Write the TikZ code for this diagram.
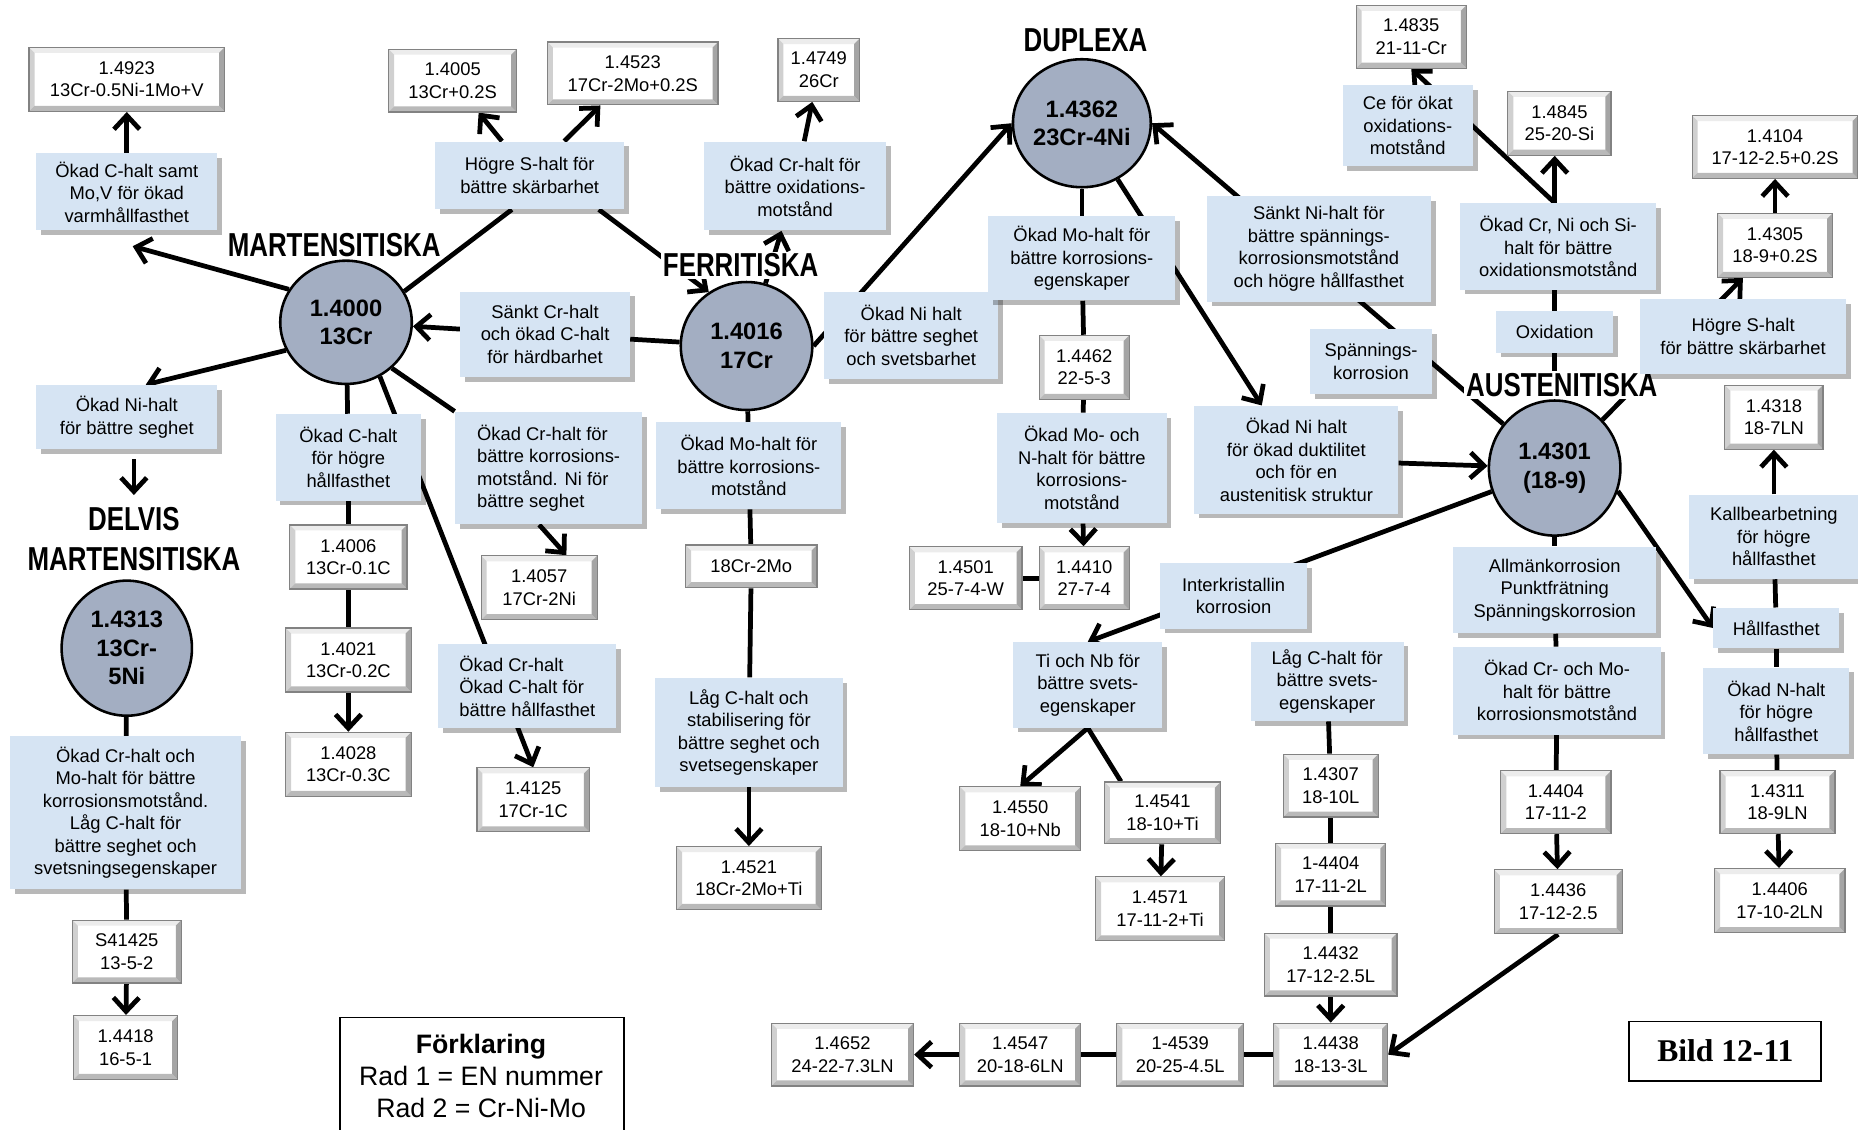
\documentclass[tikz,border=0pt]{standalone}
\usepackage{fontspec}
\setmainfont{Liberation Sans}
\newfontfamily\headfont{Liberation Sans Bold}[FakeStretch=0.78]
\newfontfamily\bildfont{Liberation Serif}
\usetikzlibrary{shapes.geometric,arrows.meta,shadows,backgrounds}
\definecolor{notefill}{RGB}{214,228,243}
\definecolor{circfill}{RGB}{163,174,194}
\definecolor{bevT}{RGB}{236,236,236}
\definecolor{bevL}{RGB}{208,208,208}
\definecolor{bevR}{RGB}{165,165,165}
\definecolor{bevB}{RGB}{185,185,185}
\definecolor{matedge}{RGB}{130,130,130}
\newcommand{\bevw}{2.8pt}
\newcommand{\bevelpp}{%
 \fill[bevT] (path picture bounding box.north west) -- (path picture bounding box.north east) -- ([shift={(-\bevw,-\bevw)}]path picture bounding box.north east) -- ([shift={(\bevw,-\bevw)}]path picture bounding box.north west) -- cycle;
 \fill[bevL] (path picture bounding box.north west) -- ([shift={(\bevw,-\bevw)}]path picture bounding box.north west) -- ([shift={(\bevw,\bevw)}]path picture bounding box.south west) -- (path picture bounding box.south west) -- cycle;
 \fill[bevB] (path picture bounding box.south west) -- ([shift={(\bevw,\bevw)}]path picture bounding box.south west) -- ([shift={(-\bevw,\bevw)}]path picture bounding box.south east) -- (path picture bounding box.south east) -- cycle;
 \fill[bevR] (path picture bounding box.south east) -- ([shift={(-\bevw,\bevw)}]path picture bounding box.south east) -- ([shift={(-\bevw,-\bevw)}]path picture bounding box.north east) -- (path picture bounding box.north east) -- cycle;
}
\tikzset{
  txt/.style={font=\fontsize{9.3}{11.4}\selectfont, align=center, inner sep=2pt},
  note/.style 2 args={txt, rectangle, fill=notefill, minimum width=#1*0.6pt, minimum height=#2*0.6pt,
     drop shadow={shadow xshift=2.4pt, shadow yshift=-2.4pt, fill=black, opacity=0.28}},
  mat/.style 2 args={txt, rectangle, draw=matedge, line width=0.6pt, fill=white, minimum width=#1*0.6pt, minimum height=#2*0.6pt,
     path picture={\bevelpp}},
  circ/.style 2 args={ellipse, draw=black, line width=1.3pt, fill=circfill, minimum width=#1*0.6pt, minimum height=#2*0.6pt,
     inner sep=0pt, align=center, font=\bfseries\fontsize{12}{14.4}\selectfont},
  head/.style={font=\headfont\fontsize{16.8}{20.4}\selectfont, fill=white, inner sep=1pt, align=center},
  conn/.style={line width=2.4pt, black},
  arr/.style={conn, -{Straight Barb[length=7pt,width=13pt]}},
}
\begin{document}
\begin{tikzpicture}[x=0.6pt,y=-0.6pt]
\useasboundingbox (0,0) rectangle (1568,953);

% ---- circles
\node[circ={111}{104}] (c4000) at (292,272) {1.4000\\13Cr};
\node[circ={111}{108}] (c4016) at (630,292) {1.4016\\17Cr};
\node[circ={111}{108}] (c4362) at (913,104) {1.4362\\23Cr-4Ni};
\node[circ={111}{114}] (c4301) at (1312,395) {1.4301\\(18-9)};
\node[circ={110}{114}] (c4313) at (107,547) {1.4313\\13Cr-\\5Ni};

% ---- headings
\node[head] (hmart) at (282,207) {MARTENSITISKA};
\node[head] (hferr) at (625,224) {FERRITISKA};
\node[head] (hdup) at (916,34) {DUPLEXA};
\node[head] (haus) at (1318,325) {AUSTENITISKA};
\node[head] (hdelvis) at (113,455) {DELVIS\\MARTENSITISKA};

% ---- notes
\node[note={153}{65}] (na) at (107,162) {Ökad C-halt samt\\Mo,V för ökad\\varmhållfasthet};
\node[note={160}{57}] (nb) at (447,148) {Högre S-halt för\\bättre skärbarhet};
\node[note={154}{75}] (nc) at (671,157) {Ökad Cr-halt för\\bättre oxidations-\\motstånd};
\node[note={143}{72}] (nd) at (460,282) {Sänkt Cr-halt\\och ökad C-halt\\för härdbarhet};
\node[note={147}{74}] (ne) at (769,283) {Ökad Ni halt\\för bättre seghet\\och svetsbarhet};
\node[note={158}{71}] (nf) at (913,218) {Ökad Mo-halt för\\bättre korrosions-\\egenskaper};
\node[note={189}{89}] (ng) at (1113,210) {Sänkt Ni-halt för\\bättre spännings-\\korrosionsmotstånd\\och högre hållfasthet};
\node[note={110}{68}] (nh) at (1188,106) {Ce för ökat\\oxidations-\\motstånd};
\node[note={165}{73}] (ni) at (1315,208) {Ökad Cr, Ni och Si-\\halt för bättre\\oxidationsmotstånd};
\node[note={99}{35}] (nj) at (1312,280) {Oxidation};
\node[note={103}{55}] (nk) at (1157,305) {Spännings-\\korrosion};
\node[note={174}{63}] (nl) at (1471,284) {Högre S-halt\\för bättre skärbarhet};
\node[note={153}{54}] (nm) at (107,352) {Ökad Ni-halt\\för bättre seghet};
\node[note={123}{73}] (nn) at (294,386) {Ökad C-halt\\för högre\\hållfasthet};
\node[note={158}{95}, align=left] (no) at (463,395) {Ökad Cr-halt för\\bättre korrosions-\\motstånd. Ni för\\bättre seghet};
\node[note={156}{73}] (np) at (632,393) {Ökad Mo-halt för\\bättre korrosions-\\motstånd};
\node[note={143}{93}] (nq) at (913,395) {Ökad Mo- och\\N-halt för bättre\\korrosions-\\motstånd};
\node[note={172}{91}] (nr) at (1094,388) {Ökad Ni halt\\för ökad duktilitet\\och för en\\austenitisk struktur};
\node[note={124}{55}] (ns) at (1041,503) {Interkristallin\\korrosion};
\node[note={126}{72}] (nt) at (918,578) {Ti och Nb för\\bättre svets-\\egenskaper};
\node[note={129}{67}] (nu) at (1120,575) {Låg C-halt för\\bättre svets-\\egenskaper};
\node[note={171}{73}] (nv) at (1312,498) {Allmänkorrosion\\Punktfrätning\\Spänningskorrosion};
\node[note={175}{74}] (nw) at (1314,583) {Ökad Cr- och Mo-\\halt för bättre\\korrosionsmotstånd};
\node[note={143}{71}] (nx) at (1497,453) {Kallbearbetning\\för högre\\hållfasthet};
\node[note={106}{34}] (ny) at (1499,530) {Hållfasthet};
\node[note={123}{73}] (nz) at (1499,600) {Ökad N-halt\\för högre\\hållfasthet};
\node[note={150}{71}, align=left] (naa) at (445,579) {Ökad Cr-halt\\Ökad C-halt för\\bättre hållfasthet};
\node[note={158}{92}] (nbb) at (632,618) {Låg C-halt och\\stabilisering för\\bättre seghet och\\svetsegenskaper};
\node[note={195}{129}] (ncc) at (106,686) {Ökad Cr-halt och\\Mo-halt för bättre\\korrosionsmotstånd.\\Låg C-halt för\\bättre seghet och\\svetsningsegenskaper};

% ---- material boxes
\node[mat={165}{54}] (m4923) at (107,67) {1.4923\\13Cr-0.5Ni-1Mo+V};
\node[mat={108}{53}] (m4005) at (382,68) {1.4005\\13Cr+0.2S};
\node[mat={144}{53}] (m4523) at (534,62) {1.4523\\17Cr-2Mo+0.2S};
\node[mat={69}{53}] (m4749) at (691,59) {1.4749\\26Cr};
\node[mat={93}{53}] (m4835) at (1191,31) {1.4835\\21-11-Cr};
\node[mat={87}{54}] (m4845) at (1316,104) {1.4845\\25-20-Si};
\node[mat={140}{53}] (m4104) at (1498,124) {1.4104\\17-12-2.5+0.2S};
\node[mat={97}{54}] (m4305) at (1498,207) {1.4305\\18-9+0.2S};
\node[mat={76}{54}] (m4462) at (915,310) {1.4462\\22-5-3};
\node[mat={83}{54}] (m4318) at (1497,352) {1.4318\\18-7LN};
\node[mat={99}{54}] (m4006) at (294,470) {1.4006\\13Cr-0.1C};
\node[mat={98}{54}] (m4057) at (455,496) {1.4057\\17Cr-2Ni};
\node[mat={111}{36}] (m18) at (634,478) {18Cr-2Mo};
\node[mat={95}{53}] (m4501) at (815,488) {1.4501\\25-7-4-W};
\node[mat={76}{53}] (m4410) at (915,488) {1.4410\\27-7-4};
\node[mat={106}{54}] (m4021) at (294,557) {1.4021\\13Cr-0.2C};
\node[mat={106}{54}] (m4028) at (294,645) {1.4028\\13Cr-0.3C};
\node[mat={95}{54}] (m4125) at (450,675) {1.4125\\17Cr-1C};
\node[mat={122}{53}] (m4521) at (632,741) {1.4521\\18Cr-2Mo+Ti};
\node[mat={102}{54}] (m4550) at (861,691) {1.4550\\18-10+Nb};
\node[mat={98}{52}] (m4541) at (981,686) {1.4541\\18-10+Ti};
\node[mat={109}{54}] (m4571) at (979,767) {1.4571\\17-11-2+Ti};
\node[mat={80}{53}] (m4307) at (1123,663) {1.4307\\18-10L};
\node[mat={93}{53}] (m4404L) at (1123,738) {1-4404\\17-11-2L};
\node[mat={112}{53}] (m4432) at (1123,814) {1.4432\\17-12-2.5L};
\node[mat={96}{53}] (m4438) at (1123,890) {1.4438\\18-13-3L};
\node[mat={107}{53}] (m4539) at (996,890) {1-4539\\20-25-4.5L};
\node[mat={102}{53}] (m4547) at (861,890) {1.4547\\20-18-6LN};
\node[mat={120}{53}] (m4652) at (711,890) {1.4652\\24-22-7.3LN};
\node[mat={93}{53}] (m4404) at (1313,677) {1.4404\\17-11-2};
\node[mat={108}{54}] (m4436) at (1315,761) {1.4436\\17-12-2.5};
\node[mat={97}{53}] (m4311) at (1500,677) {1.4311\\18-9LN};
\node[mat={110}{54}] (m4406) at (1502,760) {1.4406\\17-10-2LN};
\node[mat={92}{53}] (mS41425) at (107,803) {S41425\\13-5-2};
\node[mat={88}{54}] (m4418) at (106,884) {1.4418\\16-5-1};

% ---- legend and caption
\node[draw=black, line width=0.9pt, anchor=north west, minimum width=240*0.6pt, minimum height=125*0.6pt, inner sep=0pt] (leg) at (286,858) {};
\node[align=center, inner sep=0pt, font=\fontsize{13.5}{16}\selectfont] (legt) at (406,908) {\textbf{Förklaring}\\Rad 1 = EN nummer\\Rad 2 = Cr-Ni-Mo};
\node[draw=black, line width=0.9pt, minimum width=162*0.6pt, minimum height=50*0.6pt, font=\bildfont\bfseries\fontsize{16}{19}\selectfont] (bild) at (1456,887) {Bild 12-11};

\coordinate (jn) at (ni.north -| nj);

% ---- connectors
\begin{scope}[on background layer]
% martensitic
\draw[arr] (c4000.150) -- ([shift={(5,13)}]na.south);
\draw[arr] (na) -- (m4923);
\draw[conn] (c4000.28) -- ([shift={(-15,0)}]nb.south);
\draw[arr] (nb) -- (m4005);
\draw[arr] (nb) -- (m4523);
\draw[arr] ([shift={(-22,0)}]nb.south east) -- (c4016.125);
\draw[arr] (c4000.205) -- ([shift={(16,0)}]nm.north);
\draw[arr, shorten <=5pt, shorten >=5pt] (nm.south -| hdelvis) -- (hdelvis);
\draw[conn] (c4000) -- (nn);
\draw[conn] (nn) -- (m4006);
\draw[conn] (m4006) -- (m4021);
\draw[arr] (m4021) -- (m4028);
\draw[conn] (c4000.-45) -- (no.north west);
\draw[arr] ([shift={(-8,0)}]no.south) -- ([shift={(23,0)}]m4057.north);
\draw[arr] (c4000.-58) -- (m4125.north);
\draw[conn] (c4313) -- (ncc);
\draw[conn] (ncc) -- (mS41425);
\draw[arr] (mS41425) -- (m4418);
% ferritic
\draw[arr] (c4016) -- (nc);
\draw[arr] (nc) -- (m4749);
\draw[conn] (c4016) -- (nd);
\draw[arr] (nd) -- (c4000);
\draw[conn] (c4016) -- (np);
\draw[conn] (np) -- (m18);
\draw[conn] (m18) -- (nbb);
\draw[arr] (nbb) -- (m4521);
\draw[arr] (c4016.east) -- (c4362.west);
% duplex
\draw[conn] (c4362) -- (nf);
\draw[conn] (nf) -- (m4462);
\draw[conn] (m4462) -- (nq);
\draw[arr] (nq) -- (m4410);
\draw[conn] (m4410) -- (m4501);
\draw[arr] (c4362) -- (nr);
\draw[arr] (nr) -- (c4301);
% austenitic
\draw[arr] (c4301) -- (c4362.east);
\draw[conn] (c4301) -- (nj);
\draw[conn] (nj) -- (jn);
\draw[arr] (jn) -- (jn |- m4845.south);
\draw[arr] (jn) -- (m4835.south);
\draw[arr] (c4301) -- (m4305);
\draw[arr] (m4305) -- (m4104);
\draw[arr] (c4301.-20) -- (ny.west);
\draw[conn] (ny) -- (nx);
\draw[arr] (nx) -- (m4318);
\draw[conn] (ny) -- (nz);
\draw[conn] (nz) -- (m4311);
\draw[arr] (m4311) -- (m4406);
\draw[arr] (c4301) -- (nt.north);
\draw[arr] (nt.south) -- (m4550.north);
\draw[conn] (nt.south) -- ([shift={(-35,0)}]m4541.north);
\draw[arr] (m4541) -- (m4571);
\draw[conn] (nu) -- (m4307);
\draw[conn] (m4307) -- (m4404L);
\draw[conn] (m4404L) -- (m4432);
\draw[arr] (m4432) -- (m4438);
\draw[conn] (m4438) -- (m4539);
\draw[conn] (m4539) -- (m4547);
\draw[arr] (m4547) -- (m4652);
\draw[conn] (c4301) -- (nv);
\draw[conn] (nv) -- (nw);
\draw[conn] (nw) -- (m4404);
\draw[arr] (m4404) -- (m4436);
\draw[arr] (m4436.south) -- (m4438.east);
\end{scope}
\end{tikzpicture}
\end{document}
